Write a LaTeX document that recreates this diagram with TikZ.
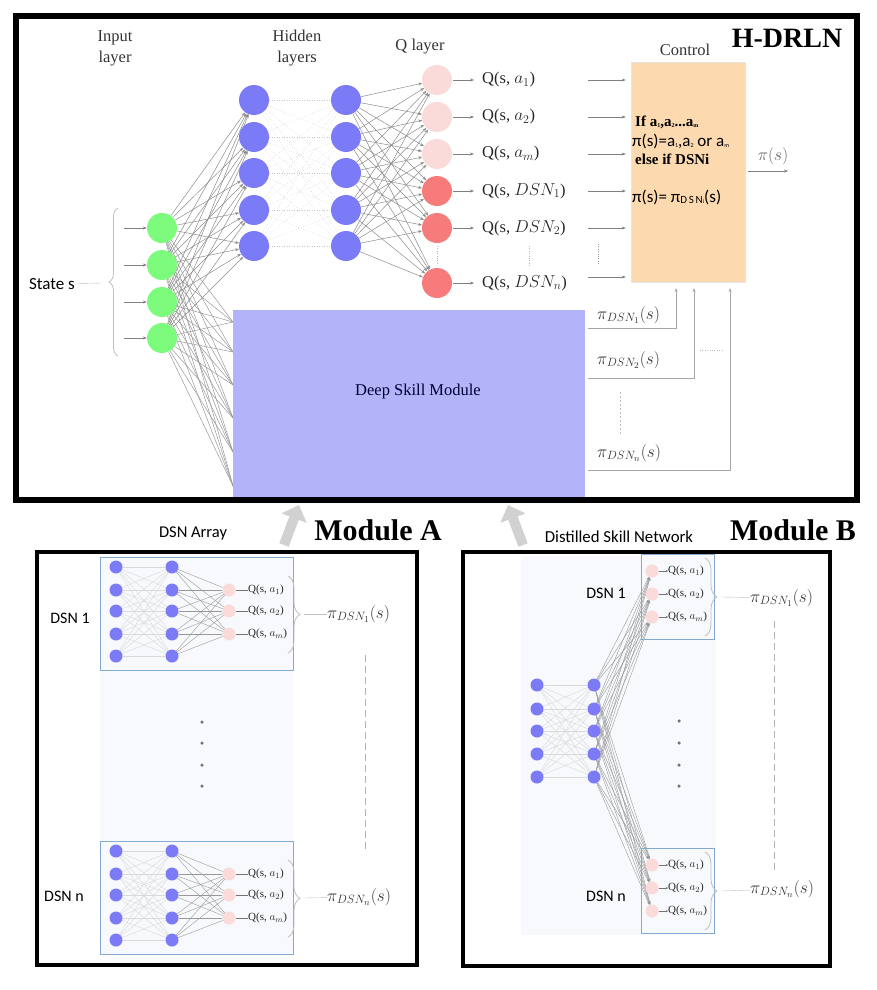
\documentclass[tikz,border=0pt]{standalone}
\usepackage{fontspec}
\setmainfont{Liberation Serif}
\setsansfont{Carlito}
\usetikzlibrary{arrows.meta, positioning, calc, decorations.pathreplacing, backgrounds}
\pgfdeclarelayer{wires}
\pgfsetlayers{background,wires,main}
\definecolor{ingreen}{HTML}{7CFB7C}
\definecolor{hidblue}{HTML}{7B7BF8}
\definecolor{qpale}{HTML}{FBDADA}
\definecolor{qred}{HTML}{F77B7B}
\definecolor{ctrlpeach}{HTML}{FDD9AF}
\definecolor{dsmblue}{HTML}{B3B3FA}
\definecolor{panelgray}{HTML}{F7F9FC}
\definecolor{dsnframe}{HTML}{82AAD4}
\newcommand{\fs}[1]{\fontsize{#1}{#1}\selectfont}
\newcommand{\tsub}[1]{\raisebox{-1.5pt}{\fontsize{6}{6}\selectfont #1}}
\tikzset{
  neuron/.style   = {circle, inner sep=0pt, minimum size=30pt},
  mini/.style     = {circle, inner sep=0pt, minimum size=13pt},
  wire/.style     = {draw=black!45, line width=0.5pt, -{Stealth[length=4pt,width=3pt]}},
  faint/.style    = {draw=black!22, line width=0.5pt, dotted},
  thinwire/.style = {draw=black!15, line width=0.4pt},
  midwire/.style  = {draw=black!40, line width=0.4pt},
  feed/.style     = {draw=black!50, line width=0.6pt, -{Stealth[length=4pt,width=3pt]}},
  qlab/.style     = {anchor=west, inner sep=0pt, font=\fs{16.5}, text=black!85},
  smallq/.style   = {anchor=west, inner sep=0pt, font=\fs{11}, text=black!85},
  pilab/.style    = {anchor=west, inner sep=0pt, font=\fs{18.5}, text=black!80},
  head/.style     = {align=center, font=\fontsize{16.5}{21}\selectfont, text=black!80},
  sans/.style     = {font=\sffamily\fs{16}, text=black},
  title/.style    = {font=\bfseries\fs{30}},
  mainframe/.style= {draw=black, line width=6pt},
  modframe/.style = {draw=black, line width=4pt},
  curly/.style    = {draw=black!25, line width=0.8pt, decorate,
                     decoration={brace, amplitude=12pt}},
  bigarrow/.style = {draw=black!18, line width=10pt,
                     -{Triangle[width=26pt,length=14pt]}},
  dsnbox/.style   = {draw=dsnframe, line width=0.8pt},
  dotmark/.style  = {circle, fill=black!55, inner sep=0pt, minimum size=3.5pt}
}
\newcommand{\dsnstack}[2]{% #1 = name prefix, #2 = vertical offset
  \begin{scope}[shift={(0,#2)}]
    \draw[dsnbox] (100,557) rectangle (293,670);
    \foreach \j/\yy in {1/567,2/590,3/611,4/634,5/656} {
      \node[mini, fill=hidblue] (#1a\j) at (116,\yy) {};
      \node[mini, fill=hidblue] (#1b\j) at (172,\yy) {};
    }
    \foreach \k/\yy/\sub in {1/590/1,2/611/2,3/634/m} {
      \node[mini, fill=qpale] (#1q\k) at (229,\yy) {};
      \node[smallq] (#1l\k) at (248,\yy) {Q(s, $a_{\sub}$)};
      \draw[black!55] (#1q\k) -- (#1l\k);
    }
    \begin{pgfonlayer}{wires}
      \foreach \i in {1,...,5}
        \foreach \j in {1,...,5}
          \draw[thinwire] (#1a\i) -- (#1b\j);
      \foreach \i in {1,...,5}
        \foreach \k in {1,2,3}
          \draw[midwire] (#1b\i) -- (#1q\k);
    \end{pgfonlayer}
    \draw[curly] (288,576) -- (288,653);
    \coordinate (#1tip) at (304,614);
  \end{scope}
}

\begin{document}
\begin{tikzpicture}[x=1pt, y=-1pt]
\useasboundingbox (0,0) rectangle (876,990);

% ---- Headings ----
\node[head] (hin)  at (115,48) {Input\\layer};
\node[head] (hhid) at (297,48) {Hidden\\layers};
\node[head] (hq)   at (420,47) {Q layer};
\node[head] (hctl) at (685,50) {Control};
\node[title, font=\bfseries\fs{28}] (hdrln) at (787,38) {H-DRLN};

% ---- Deep skill module ----
\node[fill=dsmblue, minimum width=352pt, minimum height=190pt, inner sep=0pt]
  (dsm) at (409,405) {};
\node[font=\fs{16.5}, text=black!80!blue] (dsmtxt) at (418,392) {Deep Skill Module};

% ---- Input layer ----
\foreach \i/\yy in {1/228,2/265,3/302,4/338} {
  \node[neuron, fill=ingreen] (in\i) at (162,\yy) {};
  \coordinate (ia\i) at (124,\yy);
  \draw[feed] (ia\i) -- (in\i);
}
\draw[curly, decoration={brace, amplitude=9pt}] (118,356) -- (118,208);
\node[sans, font=\sffamily\fs{17}] (state) at (52,284) {State s};
\coordinate (stip) at (102,283);
\draw[black!25] (state) -- (stip);

% ---- Hidden layers ----
\foreach \j/\yy in {1/100,2/137,3/173,4/210,5/246} {
  \node[neuron, fill=hidblue] (ha\j) at (254,\yy) {};
  \node[neuron, fill=hidblue] (hb\j) at (346,\yy) {};
}

% ---- Q layer ----
\foreach \k/\yy/\col/\lab in {1/80/qpale/a_1, 2/117/qpale/a_2, 3/154/qpale/a_m,
                              4/191/qred/DSN_1, 5/228/qred/DSN_2, 6/283/qred/DSN_n} {
  \node[neuron, fill=\col] (q\k) at (437,\yy) {};
  \node[qlab] (ql\k) at (482,\yy) {Q(s, $\lab$)};
  \draw[feed, shorten >=8pt, shorten <=1pt] (q\k) -- (ql\k);
}
\draw[black!30, dotted] (437,246) -- (437,264);
\draw[black!30, dotted] (529,246) -- (529,266);
\draw[black!40, dotted] (598,244) -- (598,264);

% ---- Wires ----
\begin{pgfonlayer}{wires}
  \foreach \t/\yy in {1/322,2/352,3/385,4/418,5/452,6/486}
    \coordinate (ds\t) at (233,\yy);
  \foreach \i in {1,...,4} {
    \foreach \j in {1,...,5}
      \draw[wire] (in\i) -- (ha\j);
    \foreach \t in {1,...,6}
      \draw[draw=black!40, line width=0.5pt] (in\i) -- (ds\t);
  }
  \foreach \i in {1,...,5}
    \foreach \j in {1,...,5}
      \draw[faint] (ha\i) -- (hb\j);
  \foreach \i in {1,...,5}
    \foreach \k in {1,...,6}
      \draw[wire] (hb\i) -- (q\k);
\end{pgfonlayer}

% ---- Control ----
\node[fill=ctrlpeach, draw=black!10, minimum width=114pt, minimum height=220pt,
      inner sep=0pt] (ctrl) at (688,172) {};
\foreach \k/\yy in {1/80,2/117,3/154,4/191,5/228,6/277} {
  \coordinate (cf\k) at (588,\yy);
  \draw[feed, shorten >=5pt] (cf\k) -- (cf\k -| ctrl.west);
}
\node[anchor=west, inner sep=0pt, font=\bfseries\fs{15}] (rule1) at (635,122)
  {If a\tsub{1},a\tsub{2}...a\tsub{m}};
\node[anchor=west, inner sep=0pt, font=\sffamily\fs{17}] (rule2) at (632,141)
  {π(s)=a\tsub{1},a\tsub{2} or a\tsub{m}};
\node[anchor=west, inner sep=0pt, font=\bfseries\fs{15}] (rule3) at (635,159)
  {else if DSNi};
\node[anchor=west, inner sep=0pt, font=\sffamily\fs{17}] (rule4) at (632,197)
  {π(s)= π{\fs{11}\raisebox{-1.5pt}{D\,S\,N}}\tsub{i}(s)};
\coordinate (pout) at (788,171);
\draw[feed, shorten <=3pt] (ctrl.east |- pout) -- (pout);
\node[font=\fs{17}, text=black!60] (pilab) at (773,156) {$\pi(s)$};

% ---- Skill policies into control ----
\foreach \k/\ly/\by/\ux/\sub in {1/315/328/676/1, 2/360/378/694/2, 3/453/470/730/n} {
  \node[pilab] (pd\k) at (597,\ly) {$\pi_{DSN_{\sub}}(s)$};
  \coordinate (pb\k) at (588,\by);
  \coordinate (pu\k) at (\ux,288);
  \draw[feed, draw=black!35] (pb\k) -| (pu\k);
}
\draw[black!25, dotted] (700,350) -- (724,350);
\draw[black!25, dashed, dash pattern=on 2pt off 2pt] (620,392) -- (620,436);

% ---- Links to modules ----
\coordinate (arA) at (284,545);
\coordinate (arA2) at (299,505);
\coordinate (arB) at (523,545);
\coordinate (arB2) at (508,505);
\draw[bigarrow] (arA) -- (arA2);
\draw[bigarrow] (arB) -- (arB2);

\draw[mainframe] (16,16) rectangle (857,500);

% ---- Module A ----
\node[title] (modA) at (378,530) {Module A};
\node[sans, font=\sffamily\fs{16.5}] (arrA) at (193,533) {DSN Array};
\begin{pgfonlayer}{background}
  \fill[panelgray] (100,556) rectangle (293,955);
  \fill[panelgray] (521,556) rectangle (716,935);
\end{pgfonlayer}
\dsnstack{dsnA}{0}
\dsnstack{dsnZ}{284}
\node[sans] (labA1) at (70,618) {DSN 1};
\node[sans] (labAn) at (64,896) {DSN n};
\node[pilab] (piA1) at (327,614) {$\pi_{DSN_1}(s)$};
\node[pilab] (piAn) at (327,897) {$\pi_{DSN_n}(s)$};
\draw[black!25] (dsnAtip) -- (piA1);
\draw[black!25] (dsnZtip) -- (piAn);
\foreach \d/\yy in {1/722,2/743,3/765,4/786}
  \node[dotmark] (dotA\d) at (202,\yy) {};
\draw[black!30, dash pattern=on 7pt off 4pt] (365,655) -- (365,852);
\draw[modframe] (37,552) rectangle (417,965);

% ---- Module B ----
\node[title] (modB) at (793,530) {Module B};
\node[sans, font=\sffamily\fs{16.8}] (arrB) at (619,537) {Distilled Skill Network};
\foreach \j/\yy in {1/685,2/709,3/731,4/754,5/777} {
  \node[mini, fill=hidblue] (ba\j) at (537,\yy) {};
  \node[mini, fill=hidblue] (bb\j) at (594,\yy) {};
}
\foreach \grp/\top in {t/0, n/294} {
  \begin{scope}[shift={(0,\top)}]
    \draw[dsnbox] (641,554) rectangle (714,639);
    \foreach \k/\yy/\sub in {1/571/1,2/594/2,3/617/m} {
      \node[mini, fill=qpale] (b\grp q\k) at (652,\yy) {};
      \node[smallq] (b\grp l\k) at (668,\yy) {Q(s, $a_{\sub}$)};
      \draw[black!55, -{Stealth[length=2pt,width=2pt]}] (b\grp q\k) -- (b\grp l\k);
    }
    \draw[curly] (705,558) -- (705,636);
    \coordinate (b\grp tip) at (722,597);
  \end{scope}
}
\begin{pgfonlayer}{wires}
  \foreach \i in {1,...,5} {
    \foreach \j in {1,...,5}
      \draw[thinwire] (ba\i) -- (bb\j);
    \foreach \k in {1,2,3} {
      \draw[midwire, -{Stealth[length=3pt,width=2pt]}] (bb\i) -- (btq\k);
      \draw[midwire, -{Stealth[length=3pt,width=2pt]}] (bb\i) -- (bnq\k);
    }
  }
\end{pgfonlayer}
\node[sans] (labB1) at (606,593) {DSN 1};
\node[sans] (labBn) at (606,896) {DSN n};
\node[pilab] (piB1) at (750,598) {$\pi_{DSN_1}(s)$};
\node[pilab] (piBn) at (750,889) {$\pi_{DSN_n}(s)$};
\draw[black!25] (bttip) -- (piB1);
\draw[black!25] (bntip) -- (piBn);
\foreach \d/\yy in {1/721,2/743,3/765,4/786}
  \node[dotmark] (dotB\d) at (679,\yy) {};
\draw[black!30, dash pattern=on 7pt off 4pt] (774,621) -- (774,870);
\draw[modframe] (463,552) rectangle (830,966);
\end{tikzpicture}
\end{document}
